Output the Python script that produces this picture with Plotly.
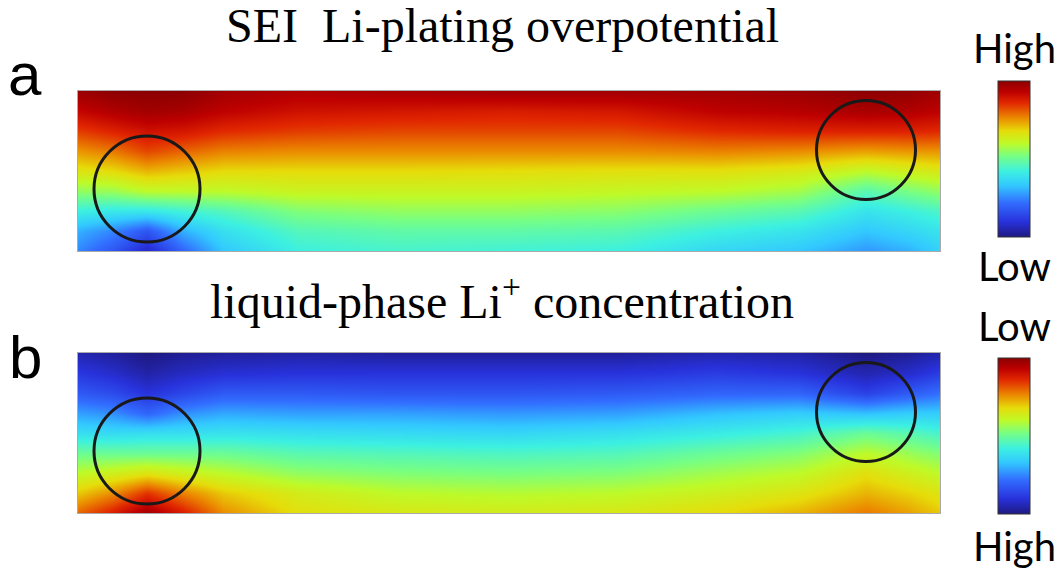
import numpy as np
import plotly.graph_objects as go

# ---------------- data ----------------
# grid coordinates of the sampled field (arbitrary length units, 1 unit = 100 px)
x_grid = [0.0, 0.35, 0.69, 1.05, 1.45, 2.2, 3.2, 4.3, 5.4, 6.4, 7.2, 7.88, 8.3, 8.62]
y_grid = [0.0, 0.2, 0.4, 0.6, 0.8, 1.0, 1.2, 1.4, 1.6]

# panel a: SEI Li-plating overpotential (relative level, 0 = low, 1 = high); one list per x column, bottom -> top
a_columns = [
    [0.25, 0.30, 0.42, 0.55, 0.66, 0.75, 0.84, 0.92, 0.98],
    [0.17, 0.25, 0.40, 0.56, 0.68, 0.78, 0.87, 0.95, 1.00],
    [0.07, 0.17, 0.40, 0.60, 0.72, 0.83, 0.90, 0.97, 1.00],
    [0.20, 0.30, 0.43, 0.60, 0.70, 0.80, 0.89, 0.96, 1.00],
    [0.33, 0.38, 0.46, 0.60, 0.68, 0.77, 0.86, 0.93, 0.97],
    [0.42, 0.46, 0.53, 0.62, 0.68, 0.76, 0.84, 0.90, 0.95],
    [0.44, 0.48, 0.55, 0.62, 0.68, 0.76, 0.83, 0.89, 0.96],
    [0.43, 0.48, 0.55, 0.62, 0.675, 0.76, 0.83, 0.88, 0.97],
    [0.42, 0.47, 0.54, 0.61, 0.67, 0.76, 0.83, 0.89, 0.97],
    [0.36, 0.42, 0.50, 0.60, 0.67, 0.77, 0.86, 0.93, 0.97],
    [0.33, 0.39, 0.47, 0.57, 0.65, 0.76, 0.87, 0.94, 0.98],
    [0.27, 0.33, 0.39, 0.47, 0.60, 0.74, 0.87, 0.96, 1.00],
    [0.30, 0.36, 0.42, 0.52, 0.63, 0.75, 0.87, 0.95, 0.99],
    [0.35, 0.39, 0.45, 0.55, 0.65, 0.75, 0.86, 0.93, 0.97],
]

# panel b: liquid-phase Li+ concentration (colour level, 0 = high conc., 1 = low conc.)
b_columns = [
    [0.80, 0.70, 0.60, 0.50, 0.38, 0.28, 0.18, 0.11, 0.05],
    [0.88, 0.76, 0.63, 0.50, 0.37, 0.26, 0.15, 0.08, 0.03],
    [0.97, 0.85, 0.66, 0.50, 0.38, 0.20, 0.10, 0.04, 0.00],
    [0.88, 0.77, 0.63, 0.50, 0.38, 0.26, 0.14, 0.07, 0.02],
    [0.76, 0.70, 0.60, 0.50, 0.39, 0.29, 0.18, 0.09, 0.03],
    [0.67, 0.64, 0.55, 0.47, 0.38, 0.28, 0.18, 0.10, 0.04],
    [0.65, 0.60, 0.53, 0.46, 0.37, 0.28, 0.17, 0.10, 0.03],
    [0.64, 0.59, 0.52, 0.45, 0.36, 0.27, 0.17, 0.10, 0.03],
    [0.65, 0.60, 0.53, 0.46, 0.38, 0.28, 0.18, 0.10, 0.03],
    [0.68, 0.63, 0.57, 0.50, 0.41, 0.32, 0.20, 0.12, 0.05],
    [0.72, 0.66, 0.60, 0.53, 0.44, 0.34, 0.20, 0.10, 0.04],
    [0.78, 0.72, 0.67, 0.60, 0.50, 0.32, 0.13, 0.05, 0.00],
    [0.74, 0.69, 0.63, 0.56, 0.47, 0.34, 0.18, 0.08, 0.02],
    [0.70, 0.66, 0.60, 0.53, 0.44, 0.34, 0.22, 0.12, 0.05],
]

# particles (circles): centre x, centre y, radius
circle_cx = [0.69, 7.88]
circle_cy = [0.62, 1.01]
circle_r = [0.53, 0.495]

titles = ["SEI\u00a0 Li-plating overpotential", "liquid-phase Li<sup>+</sup> concentration"]
panel_labels = ["a", "b"]
cbar_top = ["High", "Low"]
cbar_bottom = ["Low", "High"]

# ---------------- style ----------------
W, H = 1062, 573
jet_like = [
    [0.00, "rgb(30,25,130)"],
    [0.10, "rgb(40,50,220)"],
    [0.22, "rgb(50,110,255)"],
    [0.33, "rgb(50,200,255)"],
    [0.42, "rgb(60,240,225)"],
    [0.52, "rgb(120,255,130)"],
    [0.60, "rgb(190,250,40)"],
    [0.68, "rgb(230,220,10)"],
    [0.76, "rgb(235,140,0)"],
    [0.86, "rgb(225,40,0)"],
    [0.93, "rgb(190,0,0)"],
    [1.00, "rgb(140,0,0)"],
]

def py(px):
    return 1 - px / H

x_dom = [78 / W, 940 / W]
y_doms = [[py(251), py(91)], [py(513), py(353)]]
cbar_y = [py(158.5), py(436)]

fig = go.Figure()
for i, cols in enumerate([a_columns, b_columns]):
    z = np.array(cols).T
    fig.add_trace(go.Heatmap(
        x=x_grid, y=y_grid, z=z, zmin=0, zmax=1, zsmooth="best",
        colorscale=jet_like, xaxis="x" if i == 0 else "x2", yaxis="y" if i == 0 else "y2",
        hoverinfo="skip",
        colorbar=dict(
            x=998 / W, xanchor="left", y=cbar_y[i], yanchor="middle",
            thickness=32, len=156, lenmode="pixels", xpad=0, ypad=0,
            outlinecolor="rgb(50,50,50)", outlinewidth=1,
            showticklabels=False, ticks="",
        ),
    ))

ax_common = dict(showgrid=False, zeroline=False, showticklabels=False, ticks="",
                 showline=True, mirror=True, linecolor="rgb(170,170,170)", linewidth=1)
fig.update_layout(
    width=W, height=H, margin=dict(l=0, r=0, t=0, b=0),
    paper_bgcolor="white", plot_bgcolor="white", showlegend=False,
    xaxis=dict(domain=x_dom, range=[0, 8.62], anchor="y", **ax_common),
    yaxis=dict(domain=y_doms[0], range=[0, 1.6], anchor="x", **ax_common),
    xaxis2=dict(domain=x_dom, range=[0, 8.62], anchor="y2", **ax_common),
    yaxis2=dict(domain=y_doms[1], range=[0, 1.6], anchor="x2", **ax_common),
)

shapes = []
for i, (xr, yr) in enumerate([("x", "y"), ("x2", "y2")]):
    for cx, cy, r in zip(circle_cx, circle_cy, circle_r):
        shapes.append(dict(type="circle", xref=xr, yref=yr,
                           x0=cx - r, x1=cx + r, y0=cy - r, y1=cy + r,
                           line=dict(color="rgb(25,25,25)", width=3)))
fig.update_layout(shapes=shapes)

ann = []
title_y = [py(25), py(298)]
label_y = [py(75), py(357)]
top_y = [py(48), py(326)]
bot_y = [py(266), py(546)]
for i in range(2):
    ann.append(dict(text=titles[i], x=502 / W, y=title_y[i], xref="paper", yref="paper",
                    xanchor="center", yanchor="middle", showarrow=False,
                    font=dict(family="Liberation Serif", size=48, color="black")))
    ann.append(dict(text=panel_labels[i], x=25 / W, y=label_y[i], xref="paper", yref="paper",
                    xanchor="center", yanchor="middle", showarrow=False,
                    font=dict(family="Liberation Sans", size=60, color="black")))
    ann.append(dict(text=cbar_top[i], x=1014 / W, y=top_y[i], xref="paper", yref="paper",
                    xanchor="center", yanchor="middle", showarrow=False,
                    font=dict(family="Lato", size=40, color="black")))
    ann.append(dict(text=cbar_bottom[i], x=1014 / W, y=bot_y[i], xref="paper", yref="paper",
                    xanchor="center", yanchor="middle", showarrow=False,
                    font=dict(family="Lato", size=40, color="black")))
fig.update_layout(annotations=ann)

fig.write_html("out.html")
